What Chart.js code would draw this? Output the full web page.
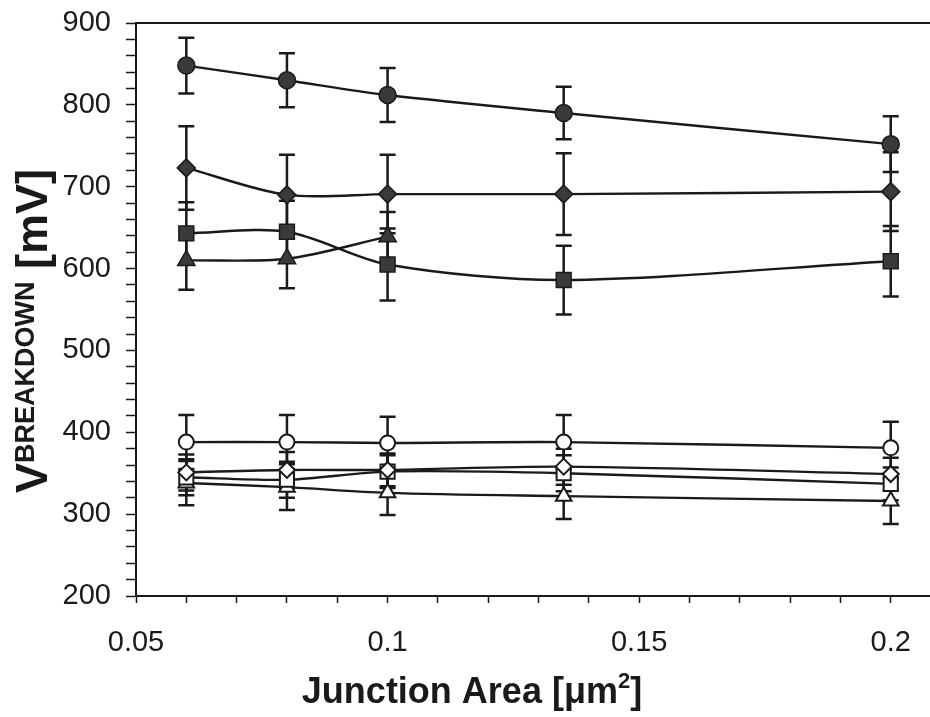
<!DOCTYPE html>
<html>
<head>
<meta charset="utf-8">
<script src="https://cdn.jsdelivr.net/npm/chart.js@4"></script>
<style>
html, body { margin: 0; padding: 0; background: #fff; overflow: hidden; }
</style>
</head>
<body>
<canvas id="chart" width="930" height="717"></canvas>
<script>
// junction areas (um^2)
const areas = [0.06, 0.08, 0.1, 0.135, 0.2];
const triAreas = [0.06, 0.08, 0.1];

// filled markers
const solidCircle = [848, 830, 812, 790, 752];
const solidCircleErr = [34, 33, 33, 32, 34];
const solidDiamond = [723, 690, 691, 691, 694];
const solidDiamondErr = [51, 49, 48, 50, 48];
const solidSquare = [643, 645, 605, 586, 609];
const solidSquareErr = [38, 38, 44, 42, 43];
const solidTriangle = [610, 612, 639];
const solidTriangleErr = [36, 36, 30];

// open markers
const openCircle = [388, 388, 387, 388, 381];
const openCircleErr = [33, 33, 32, 33, 32];
const openDiamond = [351, 354, 354, 358, 349];
const openDiamondErr = [22, 22, 20, 22, 20];
const openSquare = [345, 342, 352, 350, 337];
const openSquareErr = [22, 22, 20, 22, 20];
const openTriangle = [338, 333, 326, 322, 316];
const openTriangleErr = [27, 28, 27, 28, 28];

const yTicksMajor = [200, 300, 400, 500, 600, 700, 800, 900];

const INK = '#1a1a1a';
const FILL = '#3a3a3a';
const FONT = '"Liberation Sans", Arial, sans-serif';

function series(xs, ys, errs, style, radius, filled) {
    return {
        data: xs.map((x, i) => ({ x: x, y: ys[i] })),
        errors: errs,
        borderColor: INK,
        borderWidth: 2.4,
        tension: 0.3,
        pointStyle: style,
        pointRadius: radius,
        pointBorderWidth: filled ? 1.5 : 2,
        pointBorderColor: INK,
        pointBackgroundColor: filled ? FILL : '#fff'
    };
}

// vertical error bars with caps, drawn under the lines and markers
const errorBars = {
    id: 'errorBars',
    beforeDatasetsDraw(chart) {
        const ctx = chart.ctx;
        const xs = chart.scales.x, ys = chart.scales.y;
        ctx.save();
        ctx.strokeStyle = INK;
        ctx.lineWidth = 2.5;
        chart.data.datasets.forEach(ds => {
            ds.data.forEach((p, i) => {
                const e = ds.errors[i];
                const px = xs.getPixelForValue(p.x);
                const top = ys.getPixelForValue(p.y + e);
                const bot = ys.getPixelForValue(p.y - e);
                ctx.beginPath();
                ctx.moveTo(px, top); ctx.lineTo(px, bot);
                ctx.moveTo(px - 8, top); ctx.lineTo(px + 8, top);
                ctx.moveTo(px - 8, bot); ctx.lineTo(px + 8, bot);
                ctx.stroke();
            });
        });
        ctx.restore();
    }
};

// axis titles with the small-caps subscript and the superscript
const axisTitles = {
    id: 'axisTitles',
    afterDraw(chart) {
        const ctx = chart.ctx;
        ctx.save();
        ctx.fillStyle = INK;
        ctx.textBaseline = 'alphabetic';

        const big = 'bold 45px ' + FONT;
        const small = 'bold 27px ' + FONT;
        const parts = [['V', big, 0], ['BREAKDOWN', small, -13], [' [mV]', big, 0]];
        let total = 0;
        parts.forEach(p => { ctx.font = p[1]; total += ctx.measureText(p[0]).width; });
        ctx.translate(47, 331);
        ctx.rotate(-Math.PI / 2);
        let x = -total / 2;
        parts.forEach(p => {
            ctx.font = p[1];
            ctx.fillText(p[0], x, p[2]);
            x += ctx.measureText(p[0]).width;
        });
        ctx.setTransform(1, 0, 0, 1, 0, 0);

        const main = 'bold 36px ' + FONT;
        const sup = 'bold 22px ' + FONT;
        const xParts = [['Junction Area [\u03bcm', main, 0], ['2', sup, -15], [']', main, 0]];
        total = 0;
        xParts.forEach(p => { ctx.font = p[1]; total += ctx.measureText(p[0]).width; });
        x = 472 - total / 2;
        xParts.forEach(p => {
            ctx.font = p[1];
            ctx.fillText(p[0], x, 703 + p[2]);
            x += ctx.measureText(p[0]).width;
        });
        ctx.restore();
    }
};

new Chart(document.getElementById('chart'), {
    type: 'line',
    data: {
        datasets: [
            series(areas, solidCircle, solidCircleErr, 'circle', 8.5, true),
            series(areas, solidDiamond, solidDiamondErr, 'rectRot', 9, true),
            series(areas, solidSquare, solidSquareErr, 'rect', 10.5, true),
            series(triAreas, solidTriangle, solidTriangleErr, 'triangle', 10, true),
            series(areas, openCircle, openCircleErr, 'circle', 7.5, false),
            series(areas, openDiamond, openDiamondErr, 'rectRot', 8, false),
            series(areas, openSquare, openSquareErr, 'rect', 10, false),
            series(areas, openTriangle, openTriangleErr, 'triangle', 9, false)
        ]
    },
    options: {
        responsive: false,
        animation: false,
        layout: { padding: 0, autoPadding: false },
        plugins: {
            legend: { display: false },
            tooltip: { enabled: false }
        },
        scales: {
            x: {
                type: 'linear',
                position: 'bottom',
                min: 0.05,
                max: 0.2078,
                afterFit(scale) {
                    scale.height = 121;
                    scale.paddingLeft = 0;
                    scale.paddingRight = 0;
                },
                ticks: {
                    stepSize: 0.01,
                    includeBounds: false,
                    autoSkip: false,
                    maxRotation: 0,
                    padding: 23,
                    color: INK,
                    font: { family: FONT, size: 29 },
                    callback: v => Math.abs(v * 20 - Math.round(v * 20)) < 1e-6 ? String(v) : ''
                },
                grid: { drawOnChartArea: false, tickLength: 7, color: INK, tickWidth: 1.5 },
                border: { display: true, color: INK, width: 2 }
            },
            xTop: {
                type: 'linear',
                position: 'top',
                afterFit(scale) {
                    scale.height = 23;
                    scale.paddingLeft = 0;
                    scale.paddingRight = 0;
                },
                ticks: { display: false },
                grid: { drawOnChartArea: false, drawTicks: false },
                border: { display: true, color: INK, width: 2 }
            },
            y: {
                min: 200,
                max: 900,
                afterFit(scale) {
                    scale.width = 136;
                    scale.paddingTop = 0;
                    scale.paddingBottom = 0;
                },
                ticks: {
                    stepSize: 20,
                    autoSkip: false,
                    padding: 15,
                    color: INK,
                    font: { family: FONT, size: 29 },
                    callback: v => yTicksMajor.includes(v) ? String(v) : ''
                },
                grid: { drawOnChartArea: false, tickLength: 10, color: INK, tickWidth: 1.5 },
                border: { display: true, color: INK, width: 2 }
            }
        }
    },
    plugins: [errorBars, axisTitles]
});
</script>
</body>
</html>
